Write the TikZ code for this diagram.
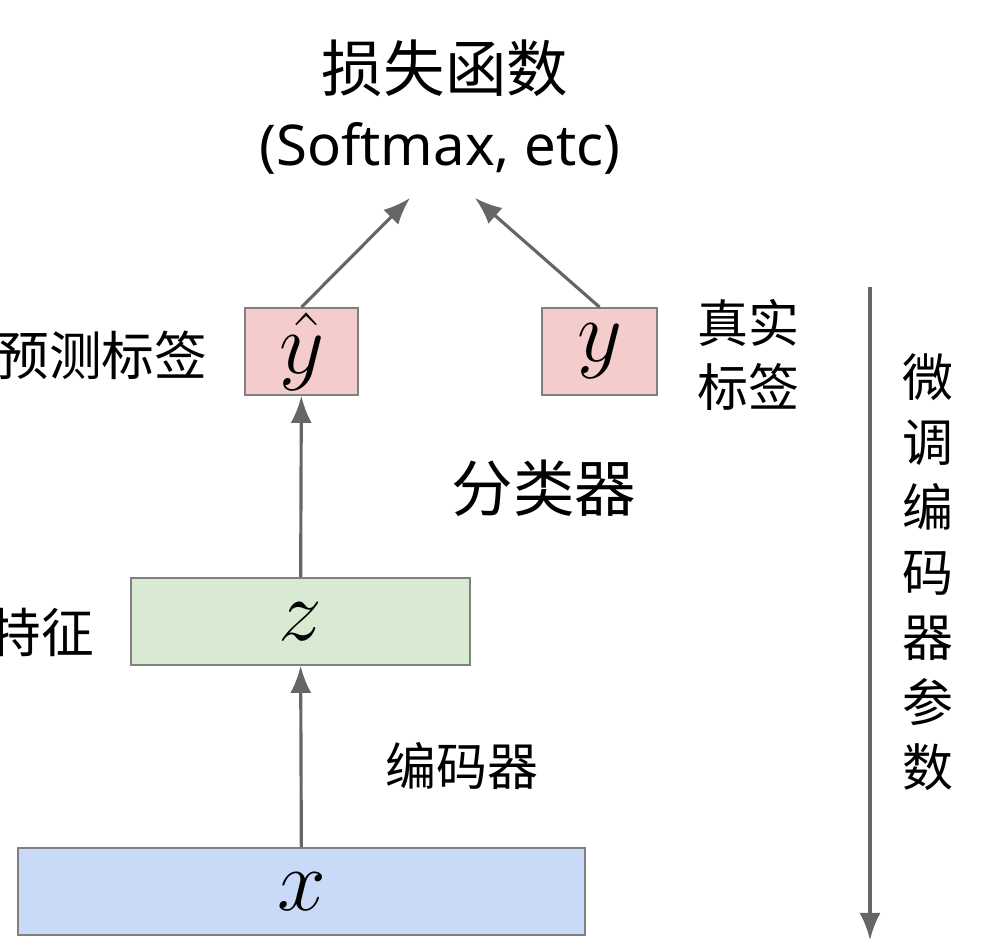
\documentclass[tikz,border=0pt]{standalone}
\usepackage{fontspec}
\setmainfont{Noto Sans}
\newfontfamily\cjk{Noto Sans CJK SC}
\usetikzlibrary{arrows.meta}

\definecolor{boxpink}{HTML}{F4CCCC}
\definecolor{boxgreen}{HTML}{D9EAD3}
\definecolor{boxblue}{HTML}{C9DAF8}
\definecolor{linegray}{HTML}{666666}

\tikzset{
	varbox/.style={draw=gray,line width=0.5pt,inner sep=0pt,minimum height=0.87cm},
	mathlabel/.style={font=\fontsize{24}{28}\selectfont},
	cjklabel/.style={font=\cjk\fontsize{15}{18.5}\selectfont},
	cjkbig/.style={font=\cjk\fontsize{17.5}{21}\selectfont},
	flow/.style={-{Latex[length=2.7mm,width=2.1mm]},line width=0.9pt,draw=linegray},
}

\begin{document}
\begin{tikzpicture}
	\useasboundingbox (0,0) rectangle (9.91,9.42);
	
	% loss function title
	\node[cjkbig] (loss) at(4.45,8.74) {损失函数};
	\node[font=\fontsize{16}{19}\selectfont] (lossnote) at(4.40,7.94) {(Softmax, etc)};
	\coordinate (lossL) at(4.10,7.44);
	\coordinate (lossR) at(4.75,7.44);
	
	% rectangle predicted label
	\node[varbox,fill=boxpink,minimum width=1.13cm,mathlabel] (yhat) at(3.015,5.905) {$\hat{y}$};
	\node[cjklabel,anchor=east,inner sep=0pt] (yhatlbl) at(2.08,5.87) {预测标签};
	
	% rectangle true label
	\node[varbox,fill=boxpink,minimum width=1.15cm,mathlabel] (ytrue) at(5.995,5.905) {$y$};
	\node[font=\cjk\fontsize{14.5}{18}\selectfont,align=left,anchor=west,inner sep=0pt] (ytruelbl) at(6.97,5.87) {真实\\标签};
	
	% classifier
	\node[cjkbig] (clf) at(5.44,4.54) {分类器};
	
	% rectangle feature
	\node[varbox,fill=boxgreen,minimum width=3.39cm,mathlabel] (zbox) at(3.005,3.205) {$z$};
	\node[cjklabel,anchor=east,inner sep=0pt] (zlbl) at(0.95,3.10) {特征};
	
	% encoder
	\node[font=\cjk\fontsize{14.5}{18}\selectfont] (enc) at(4.62,1.76) {编码器};
	
	% rectangle input
	\node[varbox,fill=boxblue,minimum width=5.67cm,mathlabel] (xbox) at(3.015,0.505) {$x$};
	
	% arrows
	\draw[flow] (xbox) -- (zbox);
	\draw[flow] (zbox) -- (yhat);
	\draw[flow] (yhat.north) -- (lossL);
	\draw[flow] (ytrue.north) -- (lossR);
	
	% fine-tuning arrow
	\coordinate (ftTop) at(8.70,6.55);
	\coordinate (ftBot) at(8.70,0.02);
	\draw[flow] (ftTop) -- (ftBot);
	\node[font=\cjk\fontsize{14.5}{18.5}\selectfont,align=center] (ftlbl) at(9.28,3.70) {微\\调\\编\\码\\器\\参\\数};
	
\end{tikzpicture}
\end{document}
